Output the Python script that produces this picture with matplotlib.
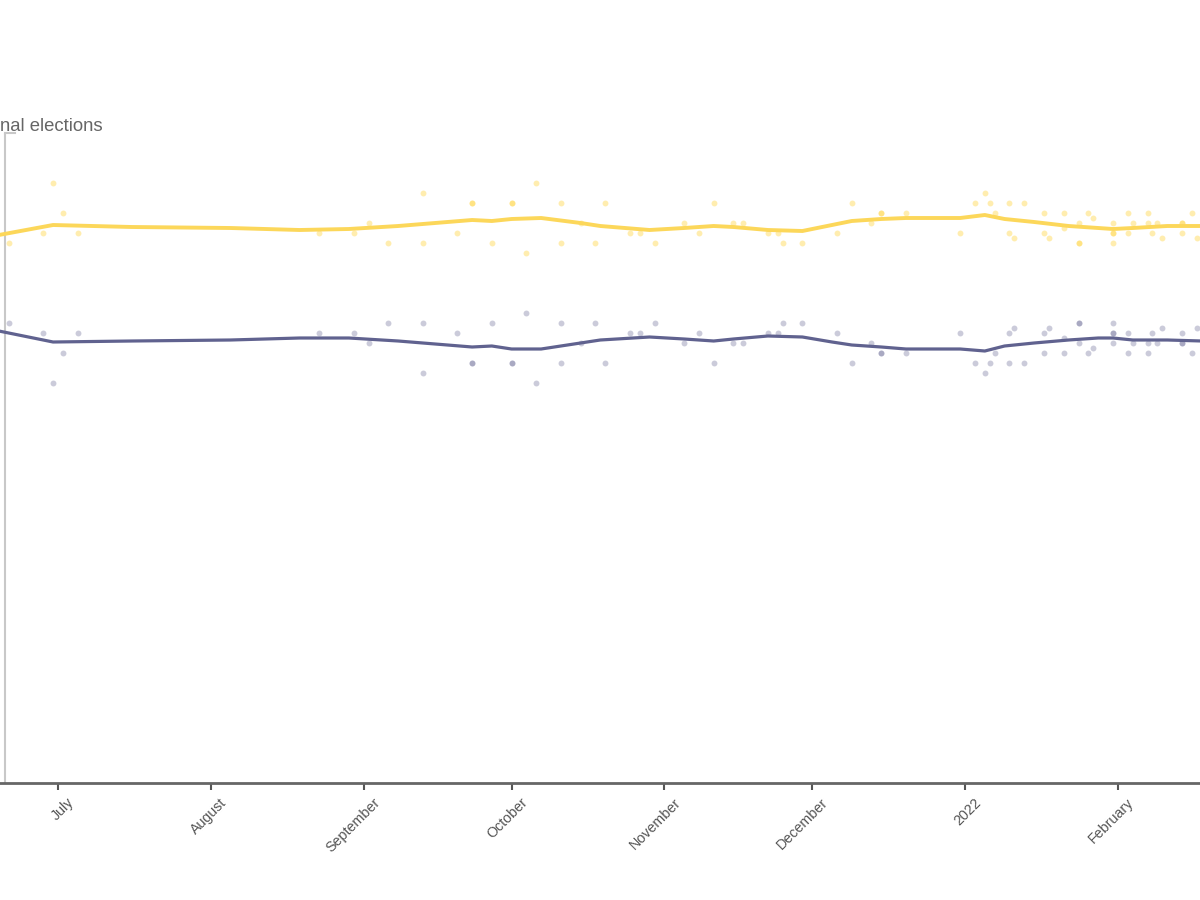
import matplotlib
matplotlib.use("Agg")
import matplotlib.pyplot as plt
import matplotlib.dates as mdates
import matplotlib.transforms as mtransforms
from datetime import datetime, timedelta

plt.rcParams['font.family'] = ['Liberation Sans', 'DejaVu Sans']

# ---------------- data ----------------
title_text = "nal elections"

poll_dates = [
    "2021-06-21", "2021-06-28", "2021-06-30", "2021-07-02", "2021-07-05",
    "2021-08-23", "2021-08-30", "2021-09-02", "2021-09-06", "2021-09-13",
    "2021-09-13", "2021-09-20", "2021-09-23", "2021-09-23", "2021-09-27",
    "2021-10-01", "2021-10-01", "2021-10-04", "2021-10-06", "2021-10-11",
    "2021-10-11", "2021-10-15", "2021-10-18", "2021-10-20", "2021-10-25",
    "2021-10-27", "2021-10-30", "2021-11-05", "2021-11-08", "2021-11-11",
    "2021-11-15", "2021-11-17", "2021-11-22", "2021-11-24", "2021-11-25",
    "2021-11-29", "2021-12-06", "2021-12-09", "2021-12-13", "2021-12-15",
    "2021-12-15", "2021-12-20", "2021-12-31", "2022-01-03", "2022-01-05",
    "2022-01-06", "2022-01-07", "2022-01-10", "2022-01-10", "2022-01-11",
    "2022-01-13", "2022-01-17", "2022-01-17", "2022-01-18", "2022-01-21",
    "2022-01-21", "2022-01-24", "2022-01-24", "2022-01-24", "2022-01-26",
    "2022-01-27", "2022-01-31", "2022-01-31", "2022-01-31", "2022-01-31",
    "2022-02-03", "2022-02-03", "2022-02-04", "2022-02-07", "2022-02-07",
    "2022-02-08", "2022-02-09", "2022-02-10", "2022-02-14", "2022-02-14",
    "2022-02-14", "2022-02-16", "2022-02-17",
]
yellow_polls = [
    54, 55, 60, 57, 55,
    55, 55, 56, 54, 59,
    54, 55, 58, 58, 54,
    58, 58, 53, 60, 58,
    54, 56, 54, 58, 55,
    55, 54, 56, 55, 58,
    56, 56, 55, 55, 54,
    54, 55, 58, 56, 57,
    57, 57, 55, 58, 59,
    58, 57, 58, 55, 54.5,
    58, 57, 55, 54.5, 57,
    55.5, 54, 54, 56, 57,
    56.5, 56, 55, 55, 54,
    57, 55, 56, 57, 56,
    55, 56, 54.5, 56, 56,
    55, 57, 54.5,
]
blue_polls = [
    46, 45, 40, 43, 45,
    45, 45, 44, 46, 41,
    46, 45, 42, 42, 46,
    42, 42, 47, 40, 42,
    46, 44, 46, 42, 45,
    45, 46, 44, 45, 42,
    44, 44, 45, 45, 46,
    46, 45, 42, 44, 43,
    43, 43, 45, 42, 41,
    42, 43, 42, 45, 45.5,
    42, 43, 45, 45.5, 43,
    44.5, 46, 46, 44, 43,
    43.5, 44, 45, 45, 46,
    43, 45, 44, 43, 44,
    45, 44, 45.5, 44, 44,
    45, 43, 45.5,
]

trend_dates = [
    "2021-06-19", "2021-06-30", "2021-07-16", "2021-08-05", "2021-08-19",
    "2021-08-29", "2021-09-08", "2021-09-23", "2021-09-27", "2021-10-01",
    "2021-10-07", "2021-10-15", "2021-10-19", "2021-10-29", "2021-11-05",
    "2021-11-11", "2021-11-15", "2021-11-22", "2021-11-29", "2021-12-05",
    "2021-12-09", "2021-12-15", "2021-12-20", "2021-12-31", "2022-01-05",
    "2022-01-09", "2022-01-15", "2022-01-22", "2022-01-28", "2022-01-31",
    "2022-02-04", "2022-02-11", "2022-02-18",
]
yellow_trend = [
    54.8, 55.8, 55.6, 55.5, 55.3,
    55.4, 55.7, 56.3, 56.2, 56.4,
    56.5, 56.0, 55.7, 55.3, 55.5,
    55.7, 55.6, 55.3, 55.2, 55.8,
    56.2, 56.4, 56.5, 56.5, 56.8,
    56.4, 56.1, 55.7, 55.5, 55.4,
    55.5, 55.7, 55.7,
]
blue_trend = [
    45.2, 44.1, 44.2, 44.3, 44.5,
    44.5, 44.2, 43.6, 43.7, 43.4,
    43.4, 44.0, 44.3, 44.6, 44.4,
    44.2, 44.4, 44.7, 44.6, 44.1,
    43.8, 43.6, 43.4, 43.4, 43.2,
    43.7, 44.0, 44.3, 44.5, 44.5,
    44.3, 44.3, 44.2,
]

month_ticks = ["2021-07-01", "2021-08-01", "2021-09-01", "2021-10-01",
               "2021-11-01", "2021-12-01", "2022-01-01", "2022-02-01"]
month_labels = ["July", "August", "September", "October",
                "November", "December", "2022", "February"]

# ---------------- plot ----------------
def to_dt(s):
    return datetime.strptime(s, "%Y-%m-%d")

pd_ = [to_dt(s) for s in poll_dates]
td_ = [to_dt(s) for s in trend_dates]

YELLOW_LINE = "#FCD75A"
YELLOW_DOT = "#FFD94F"
BLUE_LINE = "#60628F"
BLUE_DOT = "#6A6C96"

fig = plt.figure(figsize=(12, 9), dpi=100)
ax = fig.add_axes([0, 1 - 783 / 900, 1, 650 / 900])

px_per_day = 4.93
jul1 = datetime(2021, 7, 1)
x_left = jul1 - timedelta(days=58 / px_per_day)
x_right = jul1 + timedelta(days=(1200 - 58) / px_per_day)
x_yaxis = jul1 - timedelta(days=53 / px_per_day)

ax.scatter(pd_, yellow_polls, s=18, color=YELLOW_DOT, alpha=0.45,
           linewidths=0, zorder=2)
ax.scatter(pd_, blue_polls, s=18, color=BLUE_DOT, alpha=0.35,
           linewidths=0, zorder=2)
ax.plot(td_, yellow_trend, color=YELLOW_LINE, lw=2.8, zorder=3,
        solid_capstyle='round', solid_joinstyle='round')
ax.plot(td_, blue_trend, color=BLUE_LINE, lw=2.3, zorder=3,
        solid_capstyle='round', solid_joinstyle='round')

ax.set_xlim(x_left, x_right)
ax.set_ylim(0, 65)

# y axis line and its top tick
ax.axvline(x_yaxis, color="#c8c8c8", lw=1.5, zorder=1)
ax.plot([x_yaxis, x_yaxis + timedelta(days=2)], [65, 65],
        color="#c8c8c8", lw=1.5, clip_on=False, zorder=1)

for side in ["top", "right", "left"]:
    ax.spines[side].set_visible(False)
ax.spines["bottom"].set_color("#666666")
ax.spines["bottom"].set_linewidth(2)

ax.set_yticks([])
ax.set_xticks([to_dt(s) for s in month_ticks])
ax.set_xticklabels(month_labels)
ax.tick_params(axis='x', length=5, width=1.5, color="#555555",
               labelcolor="#555555", labelsize=10.3, pad=4)
offset = mtransforms.ScaledTranslation(9 / 100, 0, fig.dpi_scale_trans)
for lbl in ax.get_xticklabels():
    lbl.set_rotation(45)
    lbl.set_ha('right')
    lbl.set_va('top')
    lbl.set_rotation_mode('anchor')
    lbl.set_transform(lbl.get_transform() + offset)

fig.text(0, 1 - 131 / 900, title_text, ha='left', va='baseline',
         fontsize=13.3, color="#666666")

fig.savefig("out.png", dpi=100, facecolor="white")
